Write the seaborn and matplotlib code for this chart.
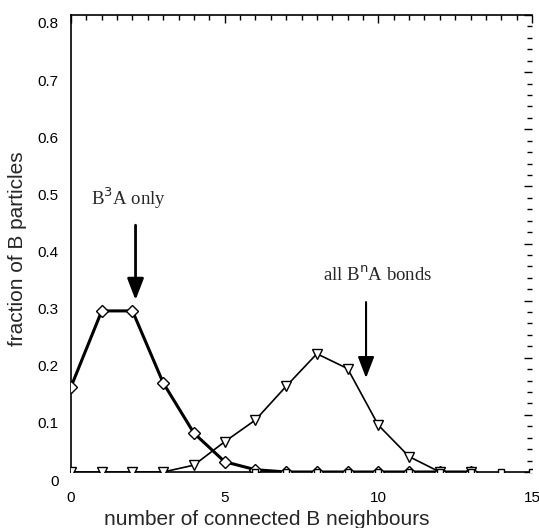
import numpy as np
import pandas as pd
import matplotlib
matplotlib.use("Agg")
import matplotlib.pyplot as plt
import seaborn as sns
from matplotlib.transforms import ScaledTranslation
from matplotlib.ticker import MultipleLocator

# ---- data ----
neighbours = [0, 1, 2, 3, 4, 5, 6, 7, 8, 9, 10, 11, 12, 13]
b3a_only = [0.149, 0.282, 0.282, 0.156, 0.068, 0.018, 0.004, 0.0, 0.0, 0.0, 0.0, 0.0, 0.0, 0.0]
all_bna = [0.0, 0.0, 0.0, 0.0, 0.012, 0.053, 0.091, 0.150, 0.207, 0.181, 0.082, 0.027, 0.0, 0.0]
zero_x = [6, 7, 8, 9, 10, 11, 12, 13, 14, 15]
zero_vals = [0.0, 0.0, 0.0, 0.0, 0.0, 0.0, 0.0, 0.0, 0.0, 0.0]

x_ticks = [0, 5, 10, 15]
y_ticks = [0, 0.1, 0.2, 0.3, 0.4, 0.5, 0.6, 0.7, 0.8]
y_ticklabels = ["0", "0.1", "0.2", "0.3", "0.4", "0.5", "0.6", "0.7", "0.8"]

sns.set_style("white")
plt.rcParams["font.family"] = ["Liberation Sans", "DejaVu Sans"]

fig = plt.figure(figsize=(5.39, 5.28), dpi=100)
ax = fig.add_axes([71 / 539, 56 / 528, 461 / 539, 457 / 528])

df1 = pd.DataFrame({"n": neighbours, "f": b3a_only})
df2 = pd.DataFrame({"n": neighbours, "f": all_bna})
df3 = pd.DataFrame({"n": zero_x, "f": zero_vals})

sns.lineplot(data=df1, x="n", y="f", ax=ax, color="black", lw=2.2,
             marker="D", markersize=6, markerfacecolor="white",
             markeredgecolor="black", markeredgewidth=1.0, zorder=3)
sns.lineplot(data=df2, x="n", y="f", ax=ax, color="black", lw=1.2,
             marker="v", markersize=7, markerfacecolor="white",
             markeredgecolor="black", markeredgewidth=1.0, zorder=3)
sns.lineplot(data=df3, x="n", y="f", ax=ax, color="black", lw=0,
             marker="s", markersize=5, markerfacecolor="white",
             markeredgecolor="black", markeredgewidth=1.0, zorder=4)

ax.set_xlim(0, 15)
ax.set_ylim(0, 0.8)
ax.set_xticks(x_ticks)
ax.set_xticklabels([str(v) for v in x_ticks])
ax.set_yticks(y_ticks)
ax.set_yticklabels(y_ticklabels)
ax.xaxis.set_minor_locator(MultipleLocator(0.5))
ax.yaxis.set_minor_locator(MultipleLocator(0.02))

for side in ["left", "bottom", "top"]:
    ax.spines[side].set_visible(True)
    ax.spines[side].set_color("black")
    ax.spines[side].set_linewidth(1.2)
ax.spines["right"].set_visible(False)

ax.tick_params(axis="both", which="both", direction="in", colors="black",
               top=True, right=True, labelsize=11)
ax.tick_params(axis="both", which="major", length=6, width=1)
ax.tick_params(axis="both", which="minor", length=3.5, width=1)
ax.tick_params(axis="x", which="major", pad=14)
ax.tick_params(axis="y", which="major", pad=9)

ax.set_xlabel("number of connected B neighbours", fontsize=15)
ax.set_ylabel("fraction of B particles", fontsize=15)
ax.xaxis.set_label_coords(0.425, -0.105)
ax.xaxis.label.set_va("center")
ax.yaxis.set_label_coords(-0.117, 0.488)
ax.yaxis.label.set_va("center")

# annotations
ax.text(1.87, 0.48, r"B$^3$A only", fontsize=13.5, ha="center", va="center",
        family=["Liberation Serif", "DejaVu Serif"])
ax.text(9.97, 0.345, r"all B$^{\rm n}$A bonds", fontsize=13.5, ha="center", va="center",
        family=["Liberation Serif", "DejaVu Serif"])
ax.annotate("", xy=(2.1, 0.301), xytext=(2.1, 0.432),
            arrowprops=dict(arrowstyle="-|>,head_length=1.3,head_width=0.5",
                            lw=2.0, color="black", mutation_scale=10,
                            shrinkA=0, shrinkB=0))
ax.annotate("", xy=(9.6, 0.1645), xytext=(9.6, 0.2975),
            arrowprops=dict(arrowstyle="-|>,head_length=1.3,head_width=0.5",
                            lw=1.5, color="black", mutation_scale=10,
                            shrinkA=0, shrinkB=0))

ax.grid(False)
if ax.get_legend() is not None:
    ax.get_legend().remove()

# y tick labels in the reference sit slightly below their ticks
off = ScaledTranslation(0, -8 / 100, fig.dpi_scale_trans)
for lab in ax.get_yticklabels():
    lab.set_transform(lab.get_transform() + off)

fig.savefig("out.png", dpi=100)
